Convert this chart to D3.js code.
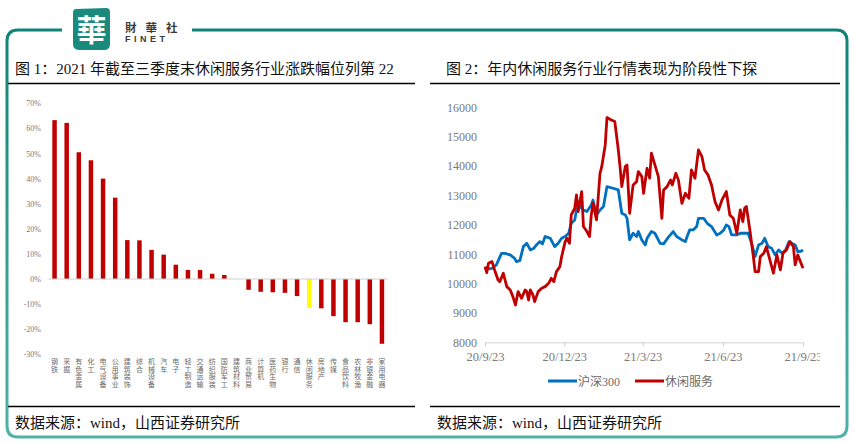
<!DOCTYPE html>
<html><head><meta charset="utf-8">
<script src="https://cdn.jsdelivr.net/npm/d3@7"></script>
<style>
html,body{margin:0;padding:0;background:#fff;}
svg{display:block;}
</style></head>
<body>
<svg id="c" width="855" height="443"></svg>
<script>
// ---------- data ----------
const categories = ["钢铁","采掘","有色金属","化工","电气设备","公用事业","建筑装饰","综合","机械设备","汽车","电子","轻工制造","交通运输","纺织服装","国防军工","建筑材料","商业贸易","计算机","医药生物","银行","通信","休闲服务","房地产","传媒","食品饮料","农林牧渔","非银金融","家用电器"];
const changes = [63.3,62.2,50.5,47.3,40.0,32.4,15.5,15.4,11.6,9.7,5.7,3.6,3.6,2.1,1.6,0.0,-4.3,-5.1,-5.3,-5.5,-6.8,-11.6,-11.7,-14.8,-17.2,-17.2,-18.0,-25.8];
const highlight = "休闲服务";
const pctTicks = [70,60,50,40,30,20,10,0,-10,-20,-30];

const startDate = "2020-09-23";
const endDate = "2021-09-23";
const dateTicks = ["2020-09-23","2020-12-23","2021-03-23","2021-06-23","2021-09-23"];
const valueTicks = [8000,9000,10000,11000,12000,13000,14000,15000,16000];
const seriesNames = ["沪深300","休闲服务"];
// [day offset from startDate, index level]
const hs300 = [[0,10463],[4,10500],[8,10520],[13,10633],[17,10900],[19,11030],[23,11030],[29,10974],[34,10860],[36,10747],[40,10780],[44,11257],[48,11371],[52,11144],[56,11200],[59,11314],[63,11428],[66,11350],[69,11600],[75,11541],[80,11257],[84,11371],[88,11541],[92,11600],[96,11712],[99,12052],[103,12165],[105,12506],[109,12620],[113,12506],[117,12450],[122,12676],[124,12846],[128,12336],[132,12506],[136,12620],[140,13300],[147,13244],[153,13187],[157,12392],[161,12336],[163,12222],[166,11485],[170,11712],[174,11600],[176,11770],[180,11485],[184,11314],[186,11541],[191,11770],[195,11712],[201,11371],[205,11350],[211,11600],[216,11770],[220,11600],[226,11485],[230,11428],[232,11600],[235,11827],[239,11827],[243,11940],[245,12222],[251,12222],[255,12052],[260,11940],[266,11655],[270,11712],[274,11827],[277,11997],[280,11940],[283,11655],[289,11655],[293,11712],[298,11712],[302,11712],[306,11371],[310,10917],[314,11314],[318,11371],[321,11541],[325,11257],[329,11200],[333,10974],[337,11144],[341,11030],[345,11144],[349,11428],[352,11371],[356,11314],[359,11087],[363,11100],[365,11144]];
const leisure = [[0,10577],[2,10372],[4,10690],[8,10747],[11,10463],[15,10122],[17,10065],[21,10350],[25,9895],[29,9782],[32,9555],[35,9271],[38,9725],[42,9498],[46,9782],[48,9725],[50,9441],[52,9782],[55,9611],[57,9385],[61,9725],[65,9839],[69,9895],[73,10009],[76,10179],[79,10065],[82,10406],[86,10577],[88,10917],[92,11428],[94,11541],[97,11371],[99,12336],[103,12563],[105,13017],[107,12450],[111,13131],[113,11940],[117,11770],[120,11600],[122,12336],[124,12733],[128,12165],[132,13754],[134,13981],[138,14719],[140,15650],[145,15570],[149,15514],[153,14549],[155,13981],[157,13300],[161,13981],[163,14038],[166,12392],[170,13357],[174,13470],[176,13811],[180,13641],[182,13074],[186,13924],[189,13584],[191,14436],[195,14038],[199,13641],[203,12222],[205,13187],[209,13300],[213,13527],[215,13357],[219,13754],[222,13527],[226,12733],[230,13074],[234,12903],[237,13868],[241,13584],[245,14549],[249,14322],[252,13868],[256,13698],[260,13357],[264,12790],[268,12506],[272,12846],[277,13131],[281,12336],[285,12222],[289,11712],[293,12506],[296,12109],[298,12563],[300,12620],[304,11827],[308,10917],[310,10406],[314,10406],[316,10917],[320,11030],[323,11257],[327,10803],[331,10350],[335,10974],[339,10463],[342,11030],[346,11144],[350,11428],[354,11257],[356,10633],[359,10974],[365,10520]];

// ---------- setup ----------
const svg = d3.select("#c");
const serifCJK = "'Liberation Serif','Noto Sans CJK SC',serif";
const defs = svg.append("defs");
const grad = defs.append("linearGradient").attr("id","tg").attr("x1",0).attr("y1",0).attr("x2",0).attr("y2",1);
grad.append("stop").attr("offset","0%").attr("stop-color","#0f8378");
grad.append("stop").attr("offset","100%").attr("stop-color","#4fb3a8");
defs.append("clipPath").attr("id","rc").append("rect").attr("x",430).attr("y",86).attr("width",390).attr("height",316);

// frame
svg.append("path")
  .attr("d","M62,30 L18,30 Q7,30 7,41 L7,426 Q7,437 18,437 L836,437 Q847,437 847,426 L847,41 Q847,30 836,30 L192,30")
  .attr("fill","none").attr("stroke","url(#tg)").attr("stroke-width",3);

// logo
svg.append("path").attr("d","M76,9 L106,8 Q110,8 110,12 L110,44 Q110,50 104,50 L80,50 Q73,50 73,44 L73,13 Q73,9 76,9 Z")
  .attr("fill","#1a8a7c");
svg.append("text").attr("x",91.5).attr("y",41).attr("text-anchor","middle")
  .attr("font-family","'Noto Sans CJK TC','Noto Sans CJK SC'").attr("font-size",30).attr("font-weight",700)
  .attr("fill","#fff").text("華");
svg.append("text").attr("x",125).attr("y",31.5).attr("font-family","'Noto Sans CJK TC','Noto Sans CJK SC'")
  .attr("font-size",11.5).attr("font-weight",700).attr("fill","#3a3a3a")
  .attr("letter-spacing",9).text("財華社");
svg.append("text").attr("x",125).attr("y",42).attr("font-family","'Liberation Sans',Arial,sans-serif")
  .attr("font-size",9).attr("font-weight",700).attr("fill","#3a3a3a")
  .attr("letter-spacing",3.5).text("FINET");

// titles and rules
svg.append("text").attr("x",15).attr("y",74).attr("font-family",serifCJK).attr("font-size",15).attr("fill","#111")
  .text("图 1：2021 年截至三季度末休闲服务行业涨跌幅位列第 22");
svg.append("text").attr("x",446).attr("y",74).attr("font-family",serifCJK).attr("font-size",15).attr("fill","#111")
  .text("图 2：年内休闲服务行业行情表现为阶段性下探");
[[8,415],[430,840]].forEach(([a,b])=>{
  svg.append("line").attr("x1",a).attr("x2",b).attr("y1",83.5).attr("y2",83.5).attr("stroke","#000").attr("stroke-width",1.5);
  svg.append("line").attr("x1",a).attr("x2",b).attr("y1",406.5).attr("y2",406.5).attr("stroke","#000").attr("stroke-width",1.5);
});
svg.append("text").attr("x",15).attr("y",428).attr("font-family",serifCJK).attr("font-size",15).attr("fill","#111")
  .text("数据来源：wind，山西证券研究所");
svg.append("text").attr("x",437).attr("y",428).attr("font-family",serifCJK).attr("font-size",15).attr("fill","#111")
  .text("数据来源：wind，山西证券研究所");

// ---------- left bar chart ----------
const xb = d3.scaleBand().domain(categories).range([48.5,388]).paddingInner(0.63).paddingOuter(0.315);
const yb = d3.scaleLinear().domain([-30,70]).range([354.3,103.3]);
const gL = svg.append("g");
const yAxisL = d3.axisLeft(yb).tickValues(pctTicks).tickSize(0).tickPadding(0)
  .tickFormat(d => (d<0?"-":"") + Math.abs(d) + "%");
gL.append("g").attr("transform","translate(41,0)").call(yAxisL)
  .call(g=>g.select(".domain").remove())
  .call(g=>g.selectAll("text").attr("font-family","'Liberation Serif',serif").attr("font-size",8).attr("fill","#7a7a7a"));
gL.selectAll("rect.bar").data(categories).join("rect").attr("class","bar")
  .attr("x",d=>xb(d)).attr("width",xb.bandwidth())
  .attr("y",(d,i)=>yb(Math.max(0,changes[i])))
  .attr("height",(d,i)=>Math.abs(yb(changes[i])-yb(0)))
  .attr("fill",d=>d===highlight?"#ffff00":"#c00000");
gL.append("line").attr("x1",48.5).attr("x2",388).attr("y1",yb(0)).attr("y2",yb(0)).attr("stroke","#d0d0d0").attr("stroke-width",1);
// stacked (vertical) category labels, one glyph per text element
const catChars = categories.flatMap(d => Array.from(d).map((ch,k)=>({cat:d, ch, k})));
gL.selectAll("text.cat").data(catChars).join("text").attr("class","cat")
  .attr("x",d=>xb(d.cat)+xb.bandwidth()/2).attr("y",d=>364+d.k*7.7)
  .attr("text-anchor","middle")
  .attr("font-family","'Noto Sans CJK SC',sans-serif").attr("font-size",7).attr("fill","#6a6a6a")
  .text(d=>d.ch);

// ---------- right line chart ----------
const parse = d3.timeParse("%Y-%m-%d");
const t0 = parse(startDate);
const xt = d3.scaleTime().domain([t0, parse(endDate)]).range([485,803]);
const yt = d3.scaleLinear().domain([8000,16000]).range([342.3,107.3]);
const gR = svg.append("g").attr("clip-path","url(#rc)");
gR.append("g").attr("transform","translate(477,0)")
  .call(d3.axisLeft(yt).tickValues(valueTicks).tickSize(0).tickPadding(0).tickFormat(d3.format("d")))
  .call(g=>g.select(".domain").remove())
  .call(g=>g.selectAll("text").attr("font-family","'Liberation Serif',serif").attr("font-size",12).attr("fill","#7a7a7a"));
gR.append("g").attr("transform","translate(0,342.3)")
  .call(d3.axisBottom(xt).tickValues(dateTicks.map(parse)).tickSize(4).tickPadding(6).tickFormat(d3.timeFormat("%y/%-m/%-d")))
  .call(g=>g.select(".domain").attr("stroke","#d0d0d0"))
  .call(g=>g.selectAll(".tick line").attr("stroke","#d0d0d0"))
  .call(g=>g.selectAll("text").attr("font-family","'Liberation Serif',serif").attr("font-size",12.5).attr("fill","#7a7a7a"));
const line = d3.line().x(d=>xt(d3.timeDay.offset(t0,d[0]))).y(d=>yt(d[1]));
gR.append("path").datum(hs300).attr("d",line).attr("fill","none").attr("stroke","#0070c0").attr("stroke-width",2.8).attr("stroke-linejoin","round");
gR.append("path").datum(leisure).attr("d",line).attr("fill","none").attr("stroke","#c00000").attr("stroke-width",2.8).attr("stroke-linejoin","round");

// legend
const legColors = ["#0070c0","#c00000"];
const legX = [548,635];
seriesNames.forEach((n,i)=>{
  svg.append("line").attr("x1",legX[i]).attr("x2",legX[i]+29).attr("y1",381).attr("y2",381).attr("stroke",legColors[i]).attr("stroke-width",3);
  svg.append("text").attr("x",legX[i]+30).attr("y",385.5).attr("font-family",serifCJK).attr("font-size",12).attr("fill","#6a6a6a").text(n);
});
</script>
</body></html>
